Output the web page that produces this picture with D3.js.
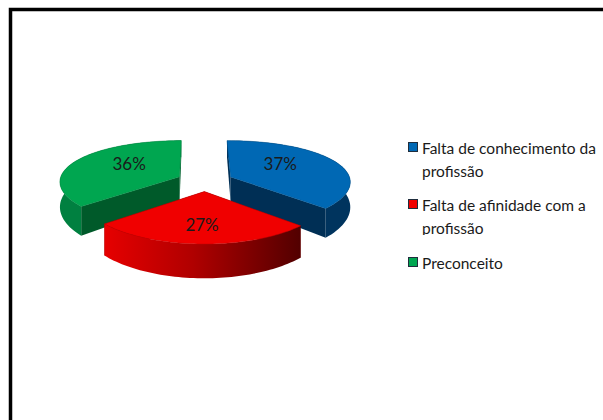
<!DOCTYPE html>
<html>
<head>
<meta charset="utf-8">
<script src="https://cdn.jsdelivr.net/npm/d3@7"></script>
<style>
html,body{margin:0;padding:0;background:#fff}
svg{display:block}
text{font-family:Lato,sans-serif;fill:#1a1a1a}
</style>
</head>
<body>
<svg id="chart" width="603" height="420"></svg>
<script>
const categories = ["Falta de conhecimento da|profissão", "Falta de afinidade com a|profissão", "Preconceito"];
const values = [37, 27, 36];
const topColors = ["#0068b4", "#f00000", "#00a650"];
const wallColors = ["#00345e", "url(#redWall)", "#008040"];
const cutColors = ["#002f55", "#800000", "#005a2a"];

// Geometry of the tilted pie
const cx = 205, cy = 181, rx = 120, ry = 43.5, depth = 25, explode = 0.235;
const perspX = 0.1, perspY = 0.14, perspDepth = 0.3;
const rotation = -0.5 * Math.PI / 180;
const ringSteps = 60;

const svg = d3.select("#chart");

// Frame around the chart area
svg.append("rect").attr("x", 10.5).attr("y", 9.5).attr("width", 640).attr("height", 480)
  .attr("fill", "#fff").attr("stroke", "#000").attr("stroke-width", 3.5);

const defs = svg.append("defs");
const grad = defs.append("linearGradient").attr("id", "redWall");
grad.append("stop").attr("offset", "0").attr("stop-color", "#e60000");
grad.append("stop").attr("offset", "0.45").attr("stop-color", "#b00000");
grad.append("stop").attr("offset", "1").attr("stop-color", "#520000");

const pie = d3.pie().sort(null).startAngle(rotation).endAngle(2 * Math.PI + rotation)(values);
const line = d3.line().curve(d3.curveLinearClosed);

// Projects a polar position on a slice (plus its outward shift) to the screen
function project(angle, radius, shiftAngle, level) {
  const px = radius * Math.sin(angle) + explode * Math.sin(shiftAngle);
  const py = -radius * Math.cos(angle) - explode * Math.cos(shiftAngle);
  return [
    cx + rx * px * (1 + perspX * py),
    cy + ry * py * (1 + perspY * py) + level * depth * (1 + perspDepth * py)
  ];
}

const order = [2, 0, 1];
order.forEach(i => {
  const s = pie[i];
  const mid = (s.startAngle + s.endAngle) / 2;
  const angles = d3.range(ringSteps + 1).map(k => s.startAngle + (s.endAngle - s.startAngle) * k / ringSteps);
  const g = svg.append("g");

  // Radial cut walls
  [s.startAngle, s.endAngle].forEach(a => {
    g.append("path")
      .attr("d", line([project(a, 0, mid, 0), project(a, 1, mid, 0), project(a, 1, mid, 1), project(a, 0, mid, 1)]))
      .attr("fill", cutColors[i]);
  });

  // Outer rim wall
  const rimTop = angles.map(a => project(a, 1, mid, 0));
  const rimBottom = angles.map(a => project(a, 1, mid, 1)).reverse();
  g.append("path").attr("d", line(rimTop.concat(rimBottom))).attr("fill", wallColors[i]);

  // Top face
  g.append("path").attr("d", line([project(0, 0, mid, 0)].concat(rimTop)))
    .attr("fill", topColors[i]).attr("stroke", d3.color(topColors[i]).darker(0.6)).attr("stroke-width", 0.5);
});

// Percentage labels, placed on each slice's top face
const labelAngles = [52, 181.5, 307];
const labelRadii = [0.56, 0.65, 0.56];
pie.forEach((s, i) => {
  const mid = (s.startAngle + s.endAngle) / 2;
  const [x, y] = project(labelAngles[i] * Math.PI / 180, labelRadii[i], mid, 0);
  svg.append("text").attr("x", x).attr("y", y).attr("text-anchor", "middle")
    .attr("dominant-baseline", "central").attr("font-size", 17)
    .text(values[i] + "%");
});

// Legend
const legendX = 408, textX = 422, lineGap = 23;
const legendTops = [149, 206, 264];
const clipBottoms = [190, 235, 269];
categories.forEach((c, i) => {
  const y = legendTops[i];
  const clipId = "legendClip" + i;
  defs.append("clipPath").attr("id", clipId).append("rect")
    .attr("x", 400).attr("y", y - 16).attr("width", 203).attr("height", clipBottoms[i] - y + 16);
  svg.append("rect").attr("x", legendX + 0.5).attr("y", y - 6.5).attr("width", 9).attr("height", 9)
    .attr("fill", topColors[i]).attr("stroke", "#1f2d3d").attr("stroke-width", 1);
  const g = svg.append("g").attr("clip-path", `url(#${clipId})`);
  c.split("|").forEach((t, j) => {
    g.append("text").attr("x", textX).attr("y", y + 5 + j * lineGap)
      .attr("font-size", 15.5).text(t);
  });
});
</script>
</body>
</html>
